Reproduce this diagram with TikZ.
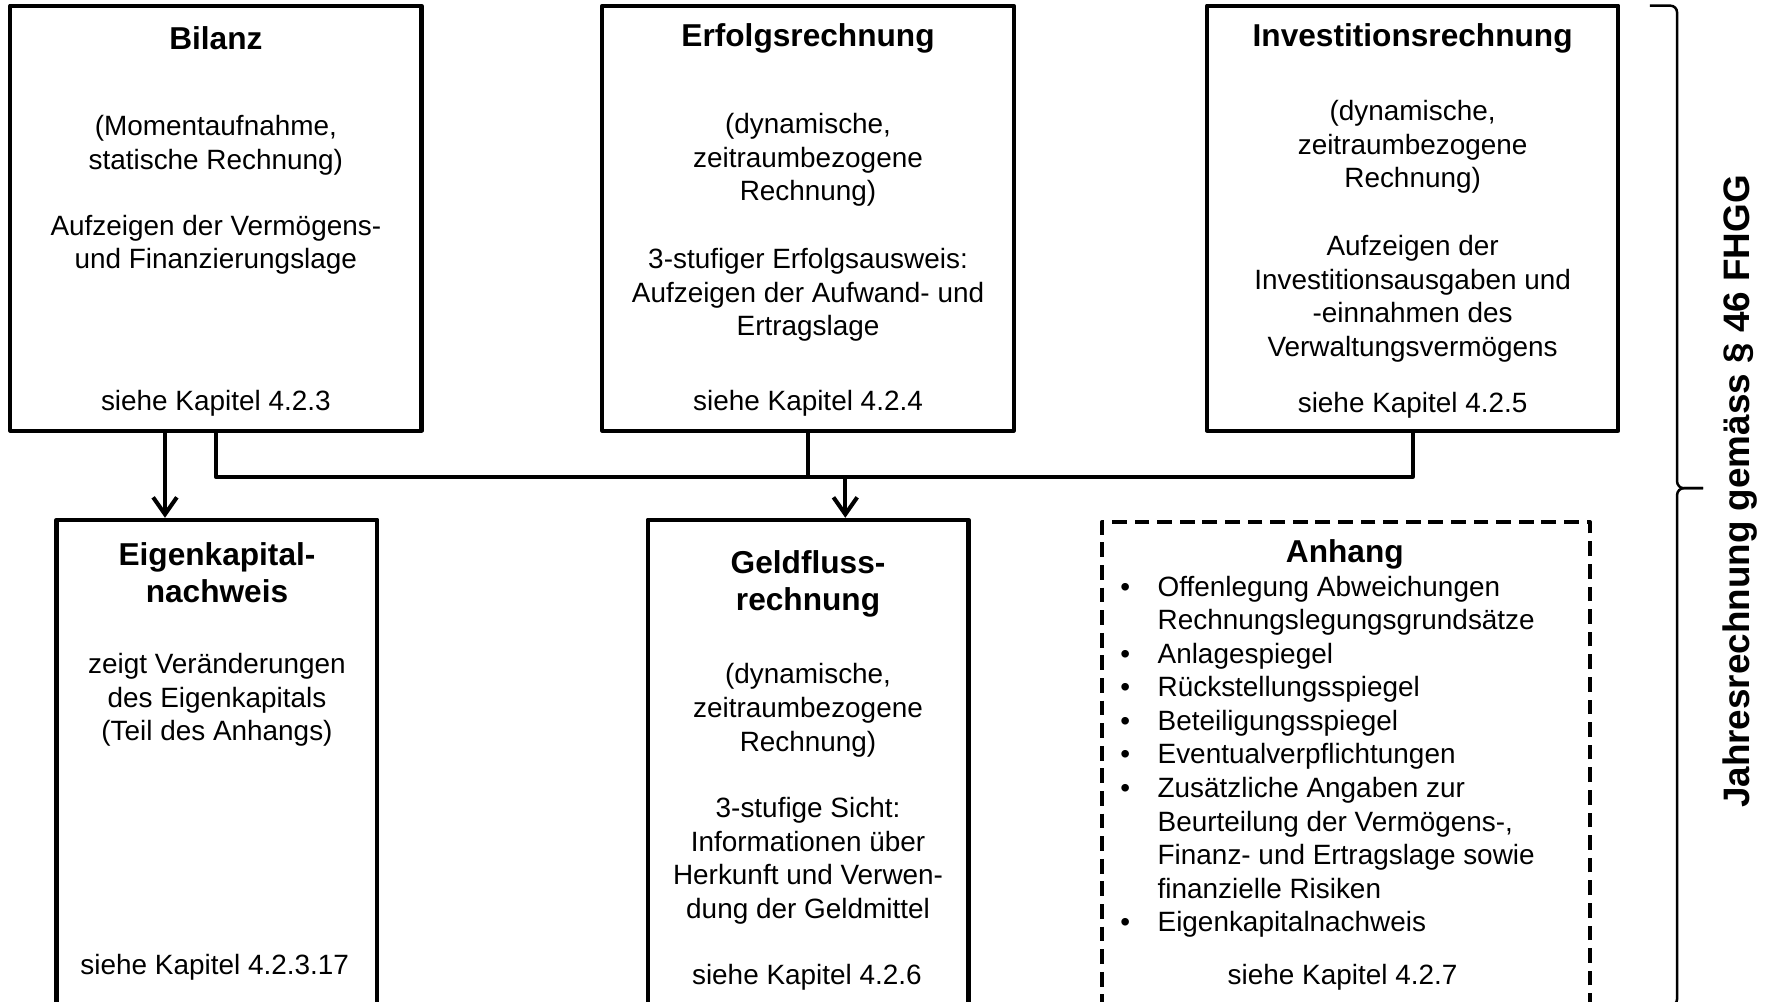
\documentclass[tikz,border=0pt]{standalone}
\usepackage{fontspec}
\setmainfont{Liberation Sans}
\usetikzlibrary{arrows.meta,positioning,fit,calc}

\tikzset{
  box/.style={draw, line width=1.8pt, line join=round, inner sep=0pt},
  dashbox/.style={box, dash pattern=on 6.5pt off 3.5pt},
  titel/.style={font=\fontsize{14}{16.5}\selectfont\bfseries, align=center, inner sep=0pt},
  txt/.style={font=\fontsize{12.35}{14.85}\selectfont, align=center, inner sep=0pt},
  conn/.style={line width=1.8pt, line join=round},
  arr/.style={conn, -{Straight Barb[length=7.5pt, width=10.5pt]}},
  klammer/.style={line width=1.1pt, rounded corners=3pt},
}

\begin{document}
\begin{tikzpicture}[x=0.5pt, y=-0.5pt]
\useasboundingbox (0,0) rectangle (1568,886);
\clip (0,0) rectangle (1568,886);

% --- Top row: Bilanz, Erfolgsrechnung, Investitionsrechnung ---
\node[box, fit={(9,5) (373,381)}] (bil) {};
\node[titel] (bilT) at (191,34) {Bilanz};
\node[txt] (bilA) at (191,128.5) {(Momentaufnahme,\\statische Rechnung)};
\node[txt] (bilB) at (191,216.5) {Aufzeigen der Vermögens-\\und Finanzierungslage};
\node[txt] (bilK) at (191,357) {siehe Kapitel 4.2.3};

\node[box, fit={(533,5) (897,381)}] (erf) {};
\node[titel] (erfT) at (715,34) {Erfolgsrechnung};
\node[txt] (erfA) at (715,141.5) {(dynamische,\\zeitraumbezogene\\Rechnung)};
\node[txt] (erfB) at (715,261) {3-stufiger Erfolgsausweis:\\Aufzeigen der Aufwand- und\\Ertragslage};
\node[txt] (erfK) at (715,357) {siehe Kapitel 4.2.4};

\node[box, fit={(1068,5) (1432,381)}] (inv) {};
\node[titel] (invT) at (1250,34) {Investitionsrechnung};
\node[txt] (invA) at (1250,130) {(dynamische,\\zeitraumbezogene\\Rechnung)};
\node[txt] (invB) at (1250,264.5) {Aufzeigen der\\Investitionsausgaben und\\-einnahmen des\\Verwaltungsvermögens};
\node[txt] (invK) at (1250,359) {siehe Kapitel 4.2.5};

% --- Bottom row: Eigenkapitalnachweis, Geldflussrechnung, Anhang ---
\node[box, fit={(50,460) (334,900)}] (ek) {};
\node[titel] (ekT) at (192,506.5) {Eigenkapital-\\nachweis};
\node[txt] (ekA) at (192,619.5) {zeigt Veränderungen\\des Eigenkapitals\\(Teil des Anhangs)};
\node[txt] (ekK) at (190,856) {siehe Kapitel 4.2.3.17};

\node[box, fit={(573,460) (857,900)}] (gf) {};
\node[titel] (gfT) at (715,516.5) {Geldfluss-\\rechnung};
\node[txt] (gfA) at (715,628.5) {(dynamische,\\zeitraumbezogene\\Rechnung)};
\node[txt] (gfB) at (715,761.5) {3-stufige Sicht:\\Informationen über\\Herkunft und Verwen-\\dung der Geldmittel};
\node[txt] (gfK) at (714,865) {siehe Kapitel 4.2.6};

\node[dashbox, fit={(975,462) (1407,900)}] (anh) {};
\node[titel] (anhT) at (1190,490.5) {Anhang};
\node[txt, anchor=west] (anhL) at (991,670) {%
  \begin{tabular}{@{}p{16.5pt}@{}l@{}}
  \textbullet & Offenlegung Abweichungen\\
              & Rechnungslegungsgrundsätze\\
  \textbullet & Anlagespiegel\\
  \textbullet & Rückstellungsspiegel\\
  \textbullet & Beteiligungsspiegel\\
  \textbullet & Eventualverpflichtungen\\
  \textbullet & Zusätzliche Angaben zur\\
              & Beurteilung der Vermögens-,\\
              & Finanz- und Ertragslage sowie\\
              & finanzielle Risiken\\
  \textbullet & Eigenkapitalnachweis
  \end{tabular}};
\node[txt] (anhK) at (1188,865) {siehe Kapitel 4.2.7};

% --- Connectors ---
\coordinate (bus) at (0,422);
\coordinate (ekin) at ($(ek.north)+(-46,0)$);
\coordinate (gfin) at ($(gf.north)+(33,0)$);
\draw[conn] (bil.south) -- (bil.south |- bus) -| (inv.south);
\draw[conn] (erf.south) -- (erf.south |- bus);
\draw[arr] (bil.south -| ekin) -- (ekin);
\draw[arr] (gfin |- bus) -- (gfin);

% --- Brace and side label ---
\draw[klammer] (1460,5) -- (1484,5) -- (1484,432) -- (1507,432);
\draw[klammer] (1507,432) -- (1484,432) -- (1484,890) -- (1460,890);
\node[rotate=90, font=\fontsize{16.3}{18}\selectfont\bfseries, inner sep=0pt]
  (jr) at (1540,435) {Jahresrechnung gemäss § 46 FHGG};
\end{tikzpicture}
\end{document}
